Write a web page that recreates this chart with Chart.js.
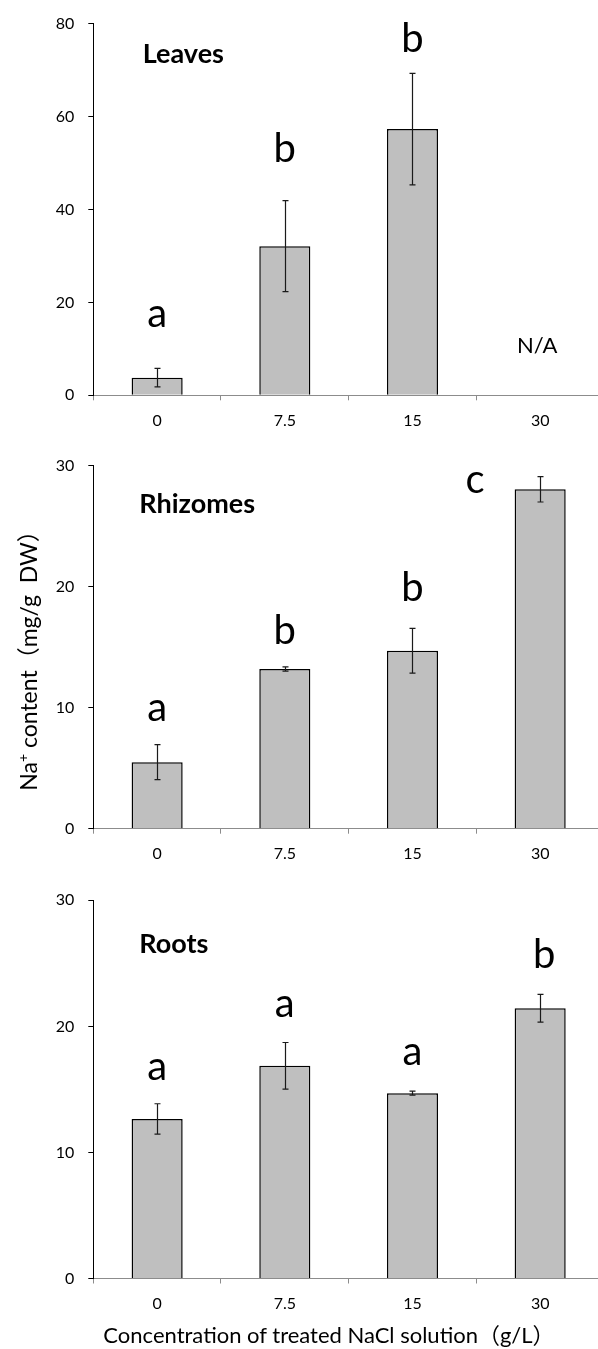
<!DOCTYPE html>
<html>
<head>
<meta charset="utf-8">
<script src="https://cdn.jsdelivr.net/npm/chart.js@4.4.1/dist/chart.umd.min.js"></script>
<style>
  html, body { margin:0; padding:0; background:#fff; overflow:hidden; }
  #wrap { position:relative; width:598px; height:1349px; overflow:hidden; }
  canvas { position:absolute; left:0; }
  .txt { position:absolute; font-family: Lato, "Noto Sans CJK SC", sans-serif; color:#000; white-space:nowrap; }
  #ytitle { width:400px; left:-172px; top:641px; height:28px; line-height:28px; text-align:center; font-size:23px; transform:rotate(-90deg); transform-origin:center center; }
  #ytitle sup { font-size:14px; vertical-align:9px; line-height:0; }
  #xtitle { width:598px; left:30px; top:1321px; height:28px; line-height:28px; text-align:center; font-size:22px; }
</style>
</head>
<body>
<div id="wrap">
  <canvas id="c1" width="610" height="440" style="top:0px"></canvas>
  <canvas id="c2" width="610" height="420" style="top:440px"></canvas>
  <canvas id="c3" width="610" height="489" style="top:860px"></canvas>
  <div class="txt" id="ytitle">Na<sup>+</sup> content（mg/g&nbsp; DW）</div>
  <div class="txt" id="xtitle">Concentration of treated NaCl solution（g/L）</div>
</div>
<script>
// ---- data ----
const categories = ['0', '7.5', '15', '30'];

const leavesMean = [3.8, 32.1, 57.3, null];
const leavesErr  = [2.0, 9.8, 12.0, null];
const leavesLetters = ['a', 'b', 'b', ''];

const rhizomesMean = [5.5, 13.2, 14.7, 28.05];
const rhizomesErr  = [1.45, 0.17, 1.85, 1.05];
const rhizomesLetters = ['a', 'b', 'b', 'c'];

const rootsMean = [12.66, 16.87, 14.7, 21.44];
const rootsErr  = [1.2, 1.85, 0.16, 1.1];
const rootsLetters = ['a', 'a', 'a', 'b'];

Chart.defaults.font.family = 'Lato, "Noto Sans CJK SC", sans-serif';
Chart.defaults.color = '#000';

const annot = {
  id: 'annot',
  afterDatasetsDraw(chart, args, o) {
    const ctx = chart.ctx, xs = chart.scales.x, ys = chart.scales.y, ca = chart.chartArea;
    const vals = chart.data.datasets[0].data;
    ctx.save();
    // error bars
    ctx.strokeStyle = '#1a1a1a';
    ctx.lineWidth = 1.2;
    o.err.forEach((e, i) => {
      if (e == null || vals[i] == null) return;
      const cx = Math.round(xs.getPixelForValue(i)) + 0.5;
      const yt = ys.getPixelForValue(vals[i] + e), yb = ys.getPixelForValue(vals[i] - e);
      ctx.beginPath();
      ctx.moveTo(cx, yt); ctx.lineTo(cx, yb);
      ctx.moveTo(cx - 3, yt); ctx.lineTo(cx + 3, yt);
      ctx.moveTo(cx - 3, yb); ctx.lineTo(cx + 3, yb);
      ctx.stroke();
    });
    // significance letters
    ctx.fillStyle = '#000';
    ctx.textAlign = 'center';
    ctx.textBaseline = 'alphabetic';
    ctx.font = '40px Lato, sans-serif';
    o.letters.forEach((t, i) => {
      if (!t) return;
      const top = ys.getPixelForValue(vals[i] + o.err[i]);
      ctx.fillText(t, xs.getPixelForValue(i) + o.letterDx[i], top - o.letterGap[i]);
    });
    // panel title
    ctx.textAlign = 'left';
    ctx.font = 'bold 27px Lato, sans-serif';
    ctx.fillText(o.title, ca.left + o.titleDx, ca.top + o.titleDy);
    // N/A note
    if (o.note) {
      ctx.textAlign = 'center';
      ctx.font = '22px Lato, sans-serif';
      ctx.fillText(o.note.text, xs.getPixelForValue(o.note.index) + o.note.dx, ca.bottom - o.note.dy);
    }
    ctx.restore();
  }
};

function makeChart(id, means, errs, letters, yMax, step, lay) {
  return new Chart(document.getElementById(id), {
    type: 'bar',
    data: {
      labels: categories,
      datasets: [{
        data: means,
        backgroundColor: '#bfbfbf',
        borderColor: '#000',
        borderWidth: 1.5,
        categoryPercentage: 1,
        barPercentage: 0.4
      }]
    },
    options: {
      responsive: false,
      animation: false,
      devicePixelRatio: 1,
      layout: { padding: { top: lay.top, right: 6, left: 0, bottom: 0 } },
      plugins: {
        legend: { display: false },
        tooltip: { enabled: false },
        annot: {
          err: errs, letters: letters,
          letterGap: lay.letterGap, letterDx: lay.letterDx,
          title: lay.title, titleDx: lay.titleDx, titleDy: lay.titleDy,
          note: lay.note
        }
      },
      scales: {
        x: {
          grid: { offset: true, drawOnChartArea: false, drawTicks: true, tickLength: 5, color: '#8c8c8c' },
          border: { color: '#8c8c8c', width: 1 },
          ticks: { font: { size: 16 }, padding: 11, color: '#000' },
          afterFit: s => { s.height = lay.xh; }
        },
        y: {
          min: 0, max: yMax,
          ticks: { stepSize: step, font: { size: 16 }, padding: 14, color: '#000' },
          grid: { drawOnChartArea: false, drawTicks: true, tickLength: 5, color: '#000' },
          border: { color: '#000', width: 1 },
          afterFit: s => { s.width = 93.3; }
        }
      }
    },
    plugins: [annot]
  });
}

makeChart('c1', leavesMean, leavesErr, leavesLetters, 80, 20, {
  top: 16, xh: 44.7,
  letterGap: [41.6, 38.4, 21.7, 0], letterDx: [0, 0, 0, 0],
  title: 'Leaves', titleDx: 49.4, titleDy: 39,
  note: { text: 'N/A', index: 3, dx: -3, dy: 42 }
});
makeChart('c2', rhizomesMean, rhizomesErr, rhizomesLetters, 30, 10, {
  top: 25.7, xh: 31.3,
  letterGap: [24, 23.4, 27, -16], letterDx: [0, 0, 0, -65],
  title: 'Rhizomes', titleDx: 46, titleDy: 47,
  note: null
});
makeChart('c3', rootsMean, rootsErr, rootsLetters, 30, 10, {
  top: 40.3, xh: 70.5,
  letterGap: [23.3, 26, 26, 26.7], letterDx: [0, 0, 0, 4],
  title: 'Roots', titleDx: 46, titleDy: 53,
  note: null
});
</script>
</body>
</html>
